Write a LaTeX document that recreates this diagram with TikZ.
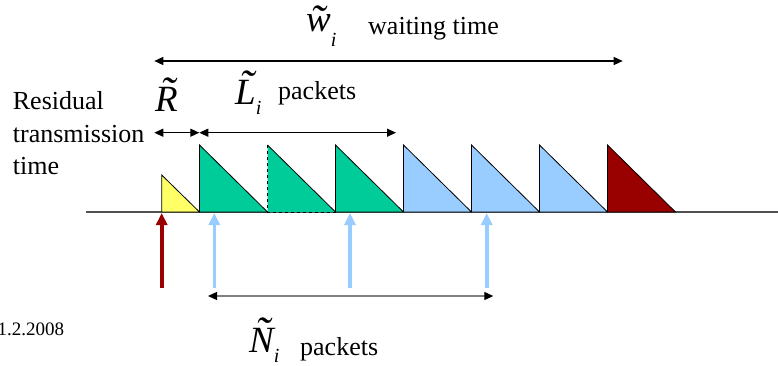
\documentclass[tikz,border=0pt]{standalone}
\usepackage[no-math]{fontspec}
\setmainfont{Liberation Serif}
\usetikzlibrary{arrows.meta}
\definecolor{pkyellow}{HTML}{FFFF66}
\definecolor{pkgreen}{HTML}{00CC99}
\definecolor{pkblue}{HTML}{99CCFF}
\definecolor{pkred}{HTML}{990000}
\definecolor{axisgray}{HTML}{505050}
\definecolor{dimgray}{HTML}{808080}
\font\tldfont="Liberation Serif/I" at 44pt
\font\mitfont="Liberation Serif/I" at 37pt
\font\subfont="Liberation Serif/I" at 20pt
\newcommand\tl[1]{{\tldfont\accent"02DC\mitfont #1}}
\newcommand\sub[2]{\raisebox{-#1}{\subfont #2}}
\begin{document}
\begin{tikzpicture}[x=1pt,y=-1pt,
  txt/.style={inner sep=0pt, anchor=base west, font=\fontsize{26}{30}\selectfont},
  mth/.style={inner sep=0pt, anchor=base west},
  datetxt/.style={inner sep=0pt, anchor=base west, font=\fontsize{19}{22}\selectfont},
  dimarrow/.style={line width=1.3pt, {Triangle[width=8pt,length=9pt]}-{Triangle[width=8pt,length=9pt]}},
  uparrow/.style={line width=3.6pt, -{Triangle[width=11pt,length=12pt]}},
  pkt/.style={draw=black, line width=0.8pt, line join=miter}
]
\useasboundingbox (0,0) rectangle (778,366);

% time axis
\coordinate (axL) at (86,212);
\coordinate (axR) at (778,212);
\draw[axisgray, line width=1.3pt] (axL) -- (axR);

% packets
\path[pkt, fill=pkyellow] (161.7,212) -- (161.7,175) -- (199.5,212) -- cycle;
\path[pkt, fill=pkgreen] (199.5,212) -- (199.5,145) -- (267.5,212) -- cycle;
\fill[pkgreen] (267.5,212) -- (267.5,145) -- (335.5,212) -- cycle;
\draw[black, line width=0.8pt, dashed] (335.5,212) -- (267.5,212) -- (267.5,145);
\draw[black, line width=0.8pt] (267.5,145) -- (335.5,212);
\path[pkt, fill=pkgreen] (335.5,212) -- (335.5,145) -- (403.5,212) -- cycle;
\path[pkt, fill=pkblue] (403.5,212) -- (403.5,145) -- (471.5,212) -- cycle;
\path[pkt, fill=pkblue] (471.5,212) -- (471.5,145) -- (539.5,212) -- cycle;
\path[pkt, fill=pkblue] (539.5,212) -- (539.5,145) -- (607.5,212) -- cycle;
\path[pkt, fill=pkred] (607.5,212) -- (607.5,145) -- (675.5,212) -- cycle;

% arrivals
\coordinate (a0b) at (161.7,288); \coordinate (a0t) at (161.7,213);
\coordinate (a1b) at (214.3,288); \coordinate (a1t) at (214.3,213);
\coordinate (a2b) at (350,288);   \coordinate (a2t) at (350,213);
\coordinate (a3b) at (486.7,288); \coordinate (a3t) at (486.7,213);
\draw[uparrow, pkred] (a0b) -- (a0t);
\draw[uparrow, pkblue] (a1b) -- (a1t);
\draw[uparrow, pkblue] (a2b) -- (a2t);
\draw[uparrow, pkblue] (a3b) -- (a3t);

% dimension arrows
\coordinate (wL) at (154.3,61);  \coordinate (wR) at (622.7,61);
\coordinate (rL) at (154.3,132.7); \coordinate (rR) at (199.3,132.7);
\coordinate (lL) at (199.3,132.7); \coordinate (lR) at (396,132.7);
\coordinate (nL) at (208,296);   \coordinate (nR) at (493.3,296);
\draw[dimarrow] (wL) -- (wR);
\draw[dimarrow] (rL) -- (rR);
\draw[dimarrow] (lL) -- (lR);
\draw[dimarrow, dimgray, {Triangle[width=8pt,length=9pt,color=black]}-{Triangle[width=8pt,length=9pt,color=black]}] (nL) -- (nR);

% labels
\node[mth] (wlab) at (306,32) {\tl{w}\sub{15pt}{i}};
\node[txt] (wtxt) at (368,35) {waiting time};
\node[mth] (rlab) at (155,112) {\tl{R}};
\node[mth] (llab) at (235,105) {\tl{L}\sub{10pt}{i}};
\node[txt] (ltxt) at (278,100) {packets};
\node[txt] (res1) at (12.7,110) {Residual};
\node[txt] (res2) at (12.7,143) {transmission};
\node[txt] (res3) at (12.7,175) {time};
\node[mth] (nlab) at (249,352) {\tl{N}\sub{10pt}{i}};
\node[txt] (ntxt) at (300,355) {packets};
\node[datetxt] (date) at (-2.5,335) {1.2.2008};
\end{tikzpicture}
\end{document}
